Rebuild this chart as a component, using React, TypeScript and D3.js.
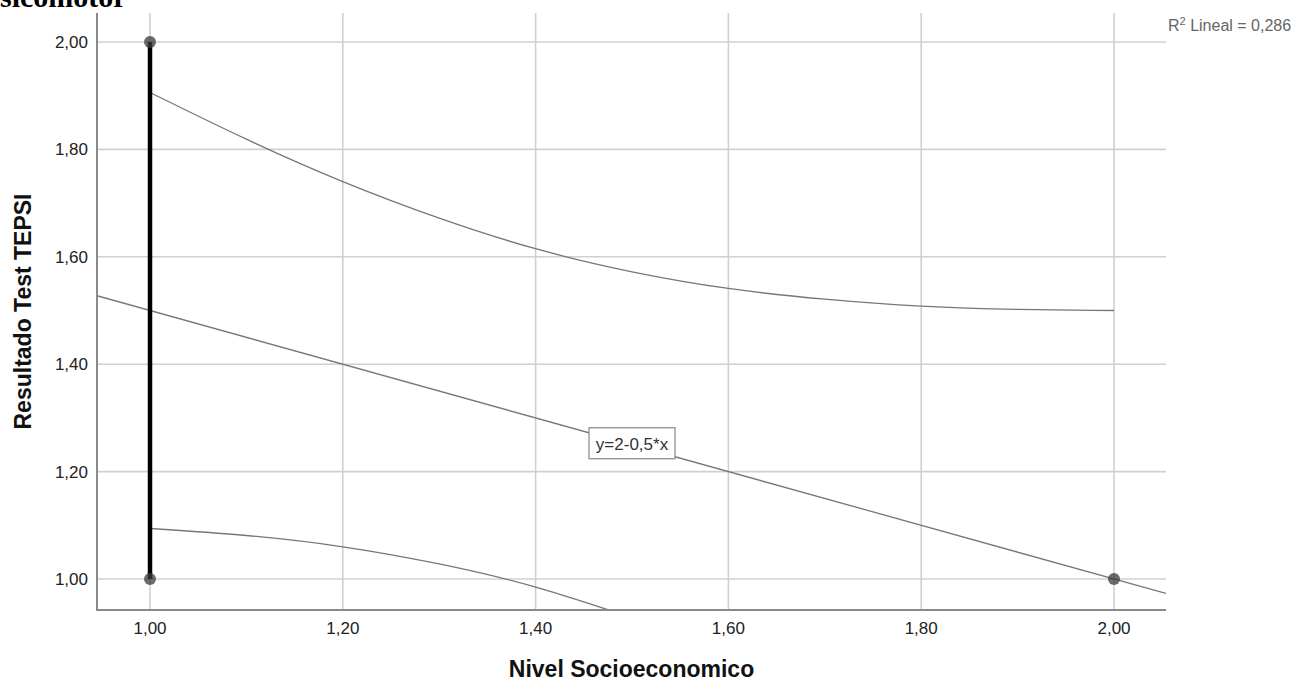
import React from "react";
import * as d3 from "d3";

// observations shown as dots
const pointX = [1, 1, 2];
const pointY = [2, 1, 1];

// vertical spike at x = 1
const spikeX = 1;
const spikeRange = [1, 2];

// fit line
const fitIntercept = 2;
const fitSlope = -0.5;
const fitLabel = "y=2-0,5*x";
const fitLabelAt = [1.5, 1.25];
const r2Text = "0,286";

// confidence band
const bandX = [1.0, 1.1, 1.2, 1.3, 1.4, 1.5, 1.6, 1.7, 1.8, 1.9, 2.0];
const bandUpper = [1.906, 1.819, 1.74, 1.672, 1.615, 1.572, 1.541, 1.521, 1.508, 1.502, 1.5];
const bandLowerX = [1.0, 1.1, 1.2, 1.3, 1.4, 1.5];
const bandLower = [1.094, 1.081, 1.06, 1.028, 0.985, 0.928];

const xTicks = [1.0, 1.2, 1.4, 1.6, 1.8, 2.0];
const yTicks = [1.0, 1.2, 1.4, 1.6, 1.8, 2.0];

const W = 1299;
const H = 682;

const esFmt = d3
  .formatLocale({ decimal: ",", thousands: ".", grouping: [3], currency: ["", ""] })
  .format(".2f");

export default function App() {
  const x = d3.scaleLinear().domain([0.94502, 2.05394]).range([97, 1166]);
  const y = d3.scaleLinear().domain([0.94227, 2.054]).range([610, 13]);
  const [x0, x1] = x.range();
  const [y0, y1] = y.range();

  const line = d3
    .line<[number, number]>()
    .x((d) => x(d[0]))
    .y((d) => y(d[1]))
    .curve(d3.curveNatural);

  const upper = line(bandX.map((v, i) => [v, bandUpper[i]] as [number, number])) || "";
  const lower = line(bandLowerX.map((v, i) => [v, bandLower[i]] as [number, number])) || "";
  const xd = x.domain();
  const fit =
    d3.line<number>().x((d) => x(d)).y((d) => y(fitIntercept + fitSlope * d))(xd) || "";

  const sans = "'Liberation Sans', Arial, sans-serif";
  const lx = x(fitLabelAt[0]);
  const ly = y(fitLabelAt[1]);

  return (
    <svg
      width={W}
      height={H}
      style={{ position: "absolute", left: 0, top: 0, background: "#fff" }}
    >
      <defs>
        <clipPath id="plot">
          <rect x={x0} y={y1} width={x1 - x0} height={y0 - y1} />
        </clipPath>
      </defs>

      <text
        x={0}
        y={7}
        fontFamily="'Liberation Serif', 'Times New Roman', serif"
        fontWeight="bold"
        fontSize={30}
        fill="#000"
      >
        sicomotor
      </text>

      {/* grid */}
      <g stroke="#d0d0d0" strokeWidth={1.6}>
        {xTicks.map((t) => (
          <line key={"gx" + t} x1={x(t)} x2={x(t)} y1={y1} y2={y0} />
        ))}
        {yTicks.map((t) => (
          <line key={"gy" + t} x1={x0} x2={x1} y1={y(t)} y2={y(t)} />
        ))}
      </g>

      <g clipPath="url(#plot)" fill="none" stroke="#777" strokeWidth={1.3}>
        <path d={upper} />
        <path d={lower} />
        <path d={fit} />
      </g>

      <line
        x1={x(spikeX)}
        x2={x(spikeX)}
        y1={y(spikeRange[0])}
        y2={y(spikeRange[1])}
        stroke="#000"
        strokeWidth={4.5}
      />

      {pointX.map((px, i) => (
        <circle
          key={"p" + i}
          cx={x(px)}
          cy={y(pointY[i])}
          r={6}
          fill="#3a3a3a"
          fillOpacity={0.75}
        />
      ))}

      <g>
        <rect
          x={lx - 43}
          y={ly - 17}
          width={86}
          height={31}
          fill="#fff"
          stroke="#888"
          strokeWidth={1.2}
        />
        <text
          x={lx}
          y={ly + 5}
          textAnchor="middle"
          fontFamily={sans}
          fontSize={17}
          fill="#333"
        >
          {fitLabel}
        </text>
      </g>

      {/* axes */}
      <g stroke="#8a8a8a" strokeWidth={2}>
        <line x1={x0} x2={x0} y1={y1} y2={y0 + 1} />
        <line x1={x0 - 1} x2={x1} y1={y0} y2={y0} />
      </g>

      <g fontFamily={sans} fontSize={17} fill="#222">
        {yTicks.map((t) => (
          <text key={"ty" + t} x={88} y={y(t) + 6} textAnchor="end">
            {esFmt(t)}
          </text>
        ))}
        {xTicks.map((t) => (
          <text key={"tx" + t} x={x(t)} y={634} textAnchor="middle">
            {esFmt(t)}
          </text>
        ))}
      </g>

      <text
        x={(x0 + x1) / 2}
        y={677}
        textAnchor="middle"
        fontFamily={sans}
        fontWeight="bold"
        fontSize={23}
        fill="#111"
      >
        Nivel Socioeconomico
      </text>
      <text
        transform={`translate(31,${(y0 + y1) / 2}) rotate(-90)`}
        textAnchor="middle"
        fontFamily={sans}
        fontWeight="bold"
        fontSize={23}
        fill="#111"
      >
        Resultado Test TEPSI
      </text>

      <text x={1168} y={31} fontFamily={sans} fontSize={16} fill="#666">
        R<tspan dy={-6} fontSize={11}>2</tspan>
        <tspan dy={6}> Lineal = {r2Text}</tspan>
      </text>
    </svg>
  );
}
